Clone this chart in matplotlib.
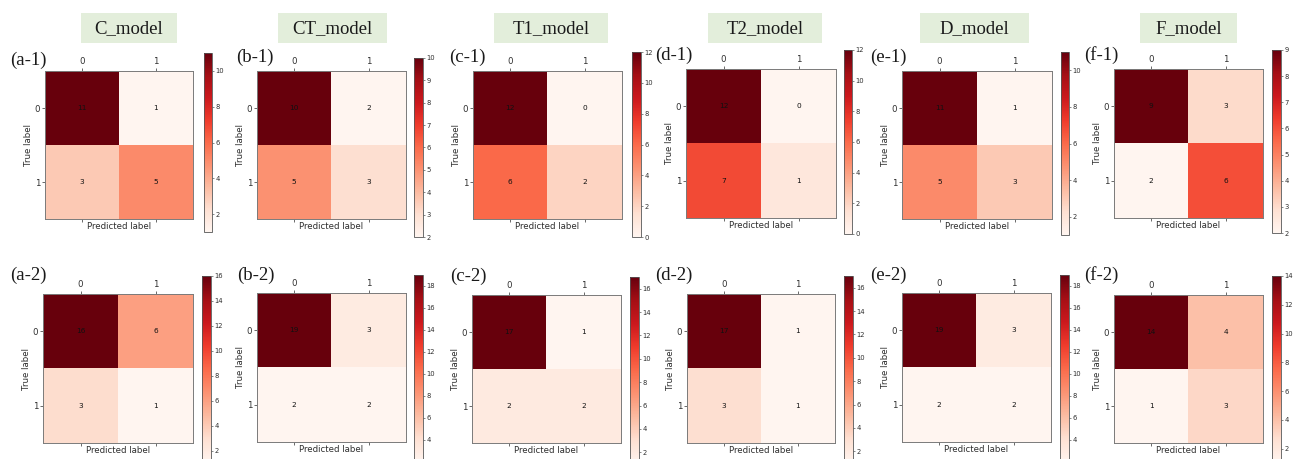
import matplotlib
matplotlib.use("Agg")
import matplotlib.pyplot as plt
from matplotlib.patches import Rectangle
import numpy as np

# ---------------- data ----------------
model_names = ["C_model", "CT_model", "T1_model", "T2_model", "D_model", "F_model"]
class_labels = ["0", "1"]

cm_a1 = [[11, 1], [3, 5]]
cm_b1 = [[10, 2], [5, 3]]
cm_c1 = [[12, 0], [6, 2]]
cm_d1 = [[12, 0], [7, 1]]
cm_e1 = [[11, 1], [5, 3]]
cm_f1 = [[9, 3], [2, 6]]

cm_a2 = [[16, 6], [3, 1]]
cm_b2 = [[19, 3], [2, 2]]
cm_c2 = [[17, 1], [2, 2]]
cm_d2 = [[17, 1], [3, 1]]
cm_e2 = [[19, 3], [2, 2]]
cm_f2 = [[14, 4], [1, 3]]

panel_tags_1 = ["(a-1)", "(b-1)", "(c-1)", "(d-1)", "(e-1)", "(f-1)"]
panel_tags_2 = ["(a-2)", "(b-2)", "(c-2)", "(d-2)", "(e-2)", "(f-2)"]

cbar_ticks_1 = [[2, 4, 6, 8, 10], list(range(2, 11)), [0, 2, 4, 6, 8, 10, 12],
                [0, 2, 4, 6, 8, 10, 12], [2, 4, 6, 8, 10], list(range(2, 10))]
cbar_ticks_2 = [list(range(2, 17, 2)), list(range(4, 19, 2)), list(range(2, 17, 2)),
                list(range(2, 17, 2)), list(range(4, 19, 2)), list(range(2, 15, 2))]

# ---------------- layout (pixels) ----------------
W, H = 1293, 459
fig = plt.figure(figsize=(W / 100, H / 100), dpi=100)
fig.patch.set_facecolor("white")


def rect(x0, y0, x1, y1):
    return [x0 / W, 1 - y1 / H, (x1 - x0) / W, (y1 - y0) / H]


mat_pos_1 = [(45, 71, 193, 219), (257, 71, 406, 219), (473, 71, 622, 219),
             (686, 69, 836, 218), (902, 71, 1052, 219), (1114, 69, 1263, 218)]
cb_pos_1 = [(204, 53, 212, 232), (414, 58, 423, 237), (632, 52, 641, 237),
            (844, 50, 852, 234), (1061, 52, 1069, 235), (1272, 50, 1281, 233)]
mat_pos_2 = [(43, 294, 193, 443), (257, 293, 406, 442), (472, 295, 621, 443),
             (687, 294, 835, 443), (902, 293, 1051, 442), (1114, 295, 1263, 443)]
cb_pos_2 = [(202, 276, 211, 463), (414, 275, 423, 462), (630, 277, 639, 464),
            (844, 276, 853, 463), (1060, 275, 1069, 462), (1272, 276, 1281, 463)]

tag_pos_1 = [(10, 60), (236, 57), (449, 57), (655, 55), (870, 57), (1084, 55)]
tag_pos_2 = [(10, 275), (237, 275), (450, 276), (655, 275), (870, 275), (1084, 275)]

title_boxes = [(81, 13, 177, 43), (278, 13, 387, 43), (494, 13, 608, 43),
               (708, 13, 822, 43), (920, 13, 1029, 43), (1140, 13, 1237, 43)]

serif = ["Liberation Serif", "DejaVu Serif"]
spine_col = "#7a7a7a"
txt_col = "#2e2e2e"


def draw_cm(cm, mpos, cpos, ticks):
    cm = np.array(cm)
    ax = fig.add_axes(rect(*mpos))
    im = ax.imshow(cm, cmap="Reds", interpolation="nearest", aspect="auto",
                   vmin=cm.min(), vmax=cm.max())
    ax.set_xticks(range(len(class_labels)))
    ax.set_yticks(range(len(class_labels)))
    ax.set_xticklabels(class_labels)
    ax.set_yticklabels(class_labels)
    ax.tick_params(top=True, bottom=True, labeltop=True, labelbottom=False,
                   labelsize=6.2, length=2, width=0.5, pad=1.5,
                   colors=txt_col)
    ax.set_xlabel("Predicted label", fontsize=6.2, color=txt_col, labelpad=0.5)
    ax.set_ylabel("True label", fontsize=6.2, color=txt_col, labelpad=1)
    for s in ax.spines.values():
        s.set_color(spine_col)
        s.set_linewidth(0.7)
    for i in range(cm.shape[0]):
        for j in range(cm.shape[1]):
            ax.text(j, i, str(cm[i, j]), ha="center", va="center",
                    fontsize=5.3, color="#111111")
    cax = fig.add_axes(rect(*cpos))
    cb = fig.colorbar(im, cax=cax)
    cb.set_ticks(ticks)
    cb.ax.tick_params(labelsize=4.9, length=1.6, width=0.4, pad=1,
                      colors=txt_col)
    cb.outline.set_edgecolor("#555555")
    cb.outline.set_linewidth(0.6)
    return ax


row1 = [cm_a1, cm_b1, cm_c1, cm_d1, cm_e1, cm_f1]
row2 = [cm_a2, cm_b2, cm_c2, cm_d2, cm_e2, cm_f2]

for k in range(6):
    draw_cm(row1[k], mat_pos_1[k], cb_pos_1[k], cbar_ticks_1[k])
    draw_cm(row2[k], mat_pos_2[k], cb_pos_2[k], cbar_ticks_2[k])

    x0, y0, x1, y1 = title_boxes[k]
    fig.patches.append(Rectangle((x0 / W, 1 - y1 / H), (x1 - x0) / W, (y1 - y0) / H,
                                 transform=fig.transFigure, facecolor="#e3eedb",
                                 edgecolor="none", zorder=0))
    fig.text((x0 + x1) / 2 / W, 1 - ((y0 + y1) / 2 + 1) / H, model_names[k],
             ha="center", va="center", fontsize=13.5, family=serif, color="#1a1a1a")

    tx, ty = tag_pos_1[k]
    fig.text(tx / W, 1 - ty / H, panel_tags_1[k], ha="left", va="center",
             fontsize=13.5, family=serif, color="#1a1a1a")
    tx, ty = tag_pos_2[k]
    fig.text(tx / W, 1 - ty / H, panel_tags_2[k], ha="left", va="center",
             fontsize=13.5, family=serif, color="#1a1a1a")

fig.savefig("out.png", dpi=100)
